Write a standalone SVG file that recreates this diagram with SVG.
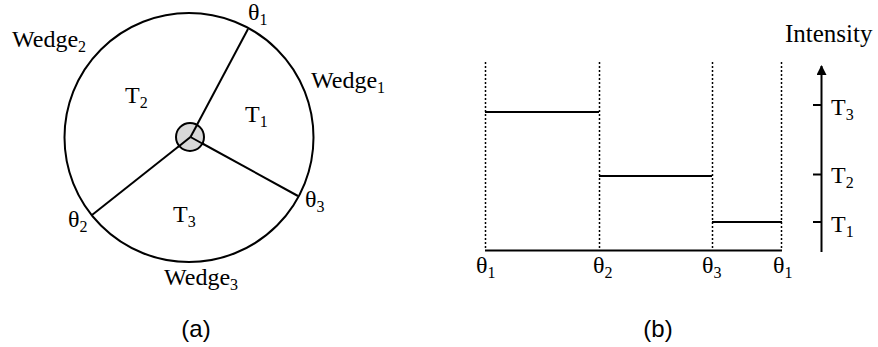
<svg xmlns="http://www.w3.org/2000/svg" width="878" height="347" viewBox="0 0 878 347">
<defs>
<style>
.ln{stroke:#000;stroke-width:2;fill:none}
.dot{stroke:#000;stroke-width:1.5;stroke-dasharray:2 2;fill:none}
</style>
<marker id="arr" viewBox="0 0 10 10" refX="9" refY="5" markerWidth="5" markerHeight="5" orient="auto" markerUnits="strokeWidth">
<path d="M0,0 L10,5 L0,10 z" fill="#000"/>
</marker>
</defs>
<rect width="878" height="347" fill="#fff"/>
<g id="wheel">
<circle cx="189" cy="137.5" r="124.5" class="ln"/>
<line x1="190.5" y1="137" x2="248" y2="29" class="ln"/>
<line x1="190.5" y1="137" x2="298" y2="196" class="ln"/>
<line x1="190.5" y1="137" x2="92" y2="215" class="ln"/>
<circle id="hub" cx="190" cy="137" r="14" fill="#d9d9d9" stroke="#000" stroke-width="2"/>
<line x1="190.5" y1="137" x2="197" y2="125" class="ln"/>
<line x1="190.5" y1="137" x2="204" y2="144.5" class="ln"/>
<line x1="190.5" y1="137" x2="178" y2="147" class="ln"/>
</g>
<g id="labels-a" font-family="Liberation Serif, Times New Roman, serif" font-size="24" fill="#000">
<text x="12" y="47">Wedge<tspan font-size="16" dy="5">2</tspan></text>
<text x="311" y="88">Wedge<tspan font-size="16" dy="5">1</tspan></text>
<text x="164" y="285">Wedge<tspan font-size="16" dy="5">3</tspan></text>
<text x="248" y="20">θ<tspan font-size="16" dy="5">1</tspan></text>
<text x="305" y="207">θ<tspan font-size="16" dy="5">3</tspan></text>
<text x="68" y="227">θ<tspan font-size="16" dy="5">2</tspan></text>
<text x="125" y="103">T<tspan font-size="16" dy="5">2</tspan></text>
<text x="245" y="122">T<tspan font-size="16" dy="5">1</tspan></text>
<text x="173" y="222">T<tspan font-size="16" dy="5">3</tspan></text>
</g>
<g id="chart">
<line x1="485.5" y1="62" x2="485.5" y2="250" class="dot"/>
<line x1="599.5" y1="62" x2="599.5" y2="250" class="dot"/>
<line x1="712.5" y1="62" x2="712.5" y2="250" class="dot"/>
<line x1="781.5" y1="62" x2="781.5" y2="250" class="dot"/>
<line x1="485" y1="250.5" x2="782" y2="250.5" class="ln"/>
<line x1="485" y1="112" x2="599" y2="112" class="ln"/>
<line x1="599" y1="176" x2="712" y2="176" class="ln"/>
<line x1="712" y1="222" x2="782" y2="222" class="ln"/>
</g>
<g id="axis">
<line x1="821.5" y1="252" x2="821.5" y2="66" class="ln" stroke-width="2.5" marker-end="url(#arr)"/>
<line x1="813" y1="105" x2="822" y2="105" class="ln"/>
<line x1="813" y1="174.5" x2="822" y2="174.5" class="ln"/>
<line x1="813" y1="222" x2="822" y2="222" class="ln"/>
</g>
<g id="labels-b" font-family="Liberation Serif, Times New Roman, serif" font-size="24" fill="#000">
<text x="785" y="42" font-size="25">Intensity</text>
<text x="831" y="115">T<tspan font-size="16" dy="5">3</tspan></text>
<text x="831" y="183">T<tspan font-size="16" dy="5">2</tspan></text>
<text x="831" y="232">T<tspan font-size="16" dy="5">1</tspan></text>
<text x="476" y="273">θ<tspan font-size="16" dy="5">1</tspan></text>
<text x="593" y="273">θ<tspan font-size="16" dy="5">2</tspan></text>
<text x="702" y="273">θ<tspan font-size="16" dy="5">3</tspan></text>
<text x="773" y="273">θ<tspan font-size="16" dy="5">1</tspan></text>
</g>
<g id="captions" font-family="Liberation Sans, Arial, sans-serif" font-size="24" fill="#000" text-anchor="middle">
<text x="196" y="337">(a)</text>
<text x="658" y="337">(b)</text>
</g>
</svg>
